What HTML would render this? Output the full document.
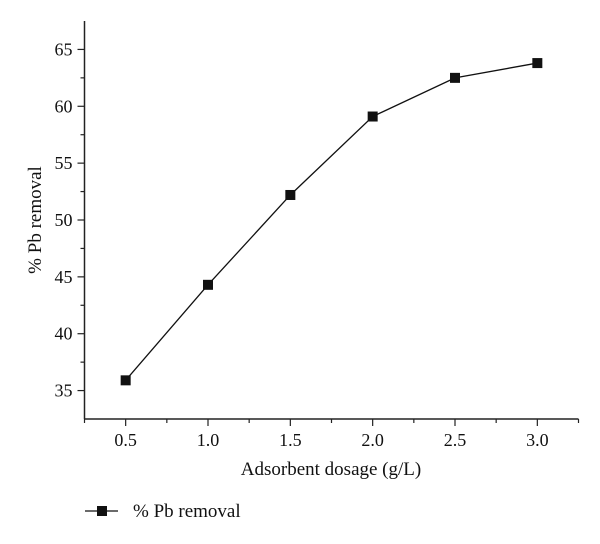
<!DOCTYPE html>
<html><head><meta charset="utf-8"><style>
body{margin:0;background:#fff}
svg text{font-family:"Liberation Serif",serif;fill:#111}
</style></head><body>
<svg id="chart" width="600" height="539" xmlns="http://www.w3.org/2000/svg"></svg>
<script>
const categories=[0.5,1.0,1.5,2.0,2.5,3.0];
const removal=[35.9,44.3,52.2,59.1,62.5,63.8];
const xTickLabels=["0.5","1.0","1.5","2.0","2.5","3.0"];
const yTickLabels=["35","40","45","50","55","60","65"];
const NS="http://www.w3.org/2000/svg";
const svg=document.getElementById('chart');
const L=84.5,R=578.5,T=21,B=419,x0=0.25,x1=3.25,y0=32.5,y1=67.5;
const xs=v=>L+(v-x0)/(x1-x0)*(R-L);
const ys=v=>B-(v-y0)/(y1-y0)*(B-T);
function mk(tag,attrs,parent){const e=document.createElementNS(NS,tag);for(const k in attrs)e.setAttribute(k,attrs[k]);(parent||svg).appendChild(e);return e;}
const axes=mk('g',{});


const ya=mk('line',{x1:L,y1:T,x2:L,y2:B,stroke:'#222','stroke-width':1.5},axes);


const xa=mk('line',{x1:L,y1:B,x2:R,y2:B,stroke:'#222','stroke-width':1.5},axes);


for(let v=35;v<=65;v+=2.5){const major=(v%5===0);mk('line',{x1:L-(major?7:4),y1:ys(v),x2:L,y2:ys(v),stroke:'#222','stroke-width':1.2},axes);}
yTickLabels.forEach(s=>{const t=mk('text',{x:L-12,y:ys(+s)+6,'text-anchor':'end','font-size':18},axes);t.textContent=s;

});
for(let v=0.25;v<=3.26;v+=0.25){const major=Math.abs(v*2-Math.round(v*2))<1e-6;mk('line',{x1:xs(v),y1:B,x2:xs(v),y2:B+(major?7:4),stroke:'#222','stroke-width':1.2},axes);}
xTickLabels.forEach(s=>{const t=mk('text',{x:xs(+s),y:B+27,'text-anchor':'middle','font-size':18},axes);t.textContent=s;

});
const xt=mk('text',{x:331,y:475,'text-anchor':'middle','font-size':19});xt.textContent='Adsorbent dosage (g/L)';


const yt=mk('text',{x:0,y:0,'text-anchor':'middle','font-size':19,transform:'translate(41,220) rotate(-90)'});yt.textContent='% Pb removal';


const line=mk('polyline',{points:categories.map((c,i)=>xs(c)+','+ys(removal[i])).join(' '),fill:'none',stroke:'#111','stroke-width':1.3});


categories.forEach((c,i)=>{const r=mk('rect',{x:xs(c)-5,y:ys(removal[i])-5,width:10,height:10,fill:'#111'});

});
const lg=mk('g',{});


mk('line',{x1:85,y1:511,x2:118,y2:511,stroke:'#111','stroke-width':1.3},lg);
mk('rect',{x:97,y:506,width:10,height:10,fill:'#111'},lg);
const lt=mk('text',{x:133,y:517,'font-size':19},lg);lt.textContent='% Pb removal';
</script>
</body></html>
